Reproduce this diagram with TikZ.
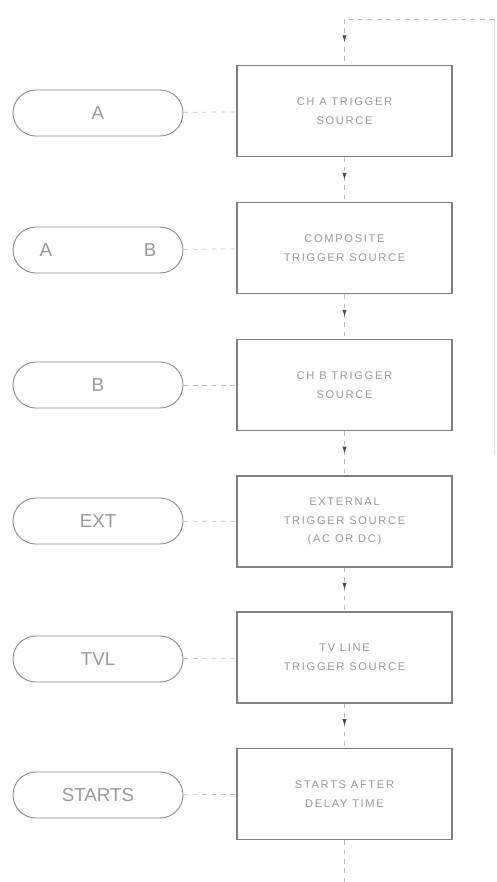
\documentclass[tikz,border=0pt]{standalone}
\usepackage{fontspec}
\usepackage{xcolor}
\usepackage{tikz}
\usetikzlibrary{arrows.meta,decorations.markings,positioning,calc}

\newfontfamily\lettering[LetterSpace=15]{Liberation Sans}
\newfontfamily\keyfont{Liberation Sans}
\definecolor{inkgray}{HTML}{808080}
\definecolor{pillgray}{HTML}{8C8C8C}
\definecolor{textgray}{HTML}{999999}
\definecolor{linkgray}{HTML}{BDBDBD}
\definecolor{edgegray}{HTML}{E2E2E2}
\definecolor{arrowgray}{HTML}{4A4A4A}

\begin{document}
\begin{tikzpicture}[x=0.03cm,y=-0.03cm,
	srcbox/.style={draw=inkgray, line width=1.1pt, minimum width=6.45cm, minimum height=2.73cm,
		align=center, inner sep=0pt, text=textgray, font=\lettering\fontsize{9.5}{16}\selectfont},
	key/.style={draw=pillgray, line width=0.8pt, rounded corners=0.69cm, minimum width=5.1cm,
		minimum height=1.38cm, inner sep=0pt, text=textgray, font=\keyfont\fontsize{16}{18}\selectfont},
	link/.style={draw=linkgray, line width=0.6pt, dash pattern=on 4pt off 4pt},
	flow/.style={link, postaction={decorate}, decoration={markings,
		mark=at position 0.5 with {\arrow[arrowgray, solid]{Latex[length=2mm,width=1.3mm]}}}}]
		\useasboundingbox (0,0) rectangle (496,882);

		% trigger source boxes
		\node[srcbox] (chA) at (344.5,111) {CH A TRIGGER\\SOURCE};
		\node[srcbox] (comp) at (344.5,248) {COMPOSITE\\TRIGGER SOURCE};
		\node[srcbox] (chB) at (344.5,385) {CH B TRIGGER\\SOURCE};
		\node[srcbox] (ext) at (344.5,521.5) {EXTERNAL\\TRIGGER SOURCE\\(AC OR DC)};
		\node[srcbox] (tvl) at (344.5,657.5) {TV LINE\\TRIGGER SOURCE};
		\node[srcbox] (delay) at (344.5,794) {STARTS AFTER\\DELAY TIME};

		% key annunciators
		\node[key] (keyA) at (98,113) {A};
		\node[key] (keyAB) at (98,250) {A\hspace{2.75cm}B};
		\node[key] (keyB) at (98,385) {B};
		\node[key] (keyExt) at (98,521) {EXT};
		\node[key] (keyTvl) at (98,659) {TVL};
		\node[key] (keyStarts) at (98,795) {STARTS};

		\draw[link] (keyA) -- (chA);
		\draw[link] (keyAB) -- (comp);
		\draw[link] (keyB) -- (chB);
		\draw[link] (keyExt) -- (ext);
		\draw[link] (keyTvl) -- (tvl);
		\draw[link] (keyStarts) -- (delay);

		% loop back in from the right
		\coordinate (loop) at (344.5,19);
		\coordinate (edge) at (494,19);
		\coordinate (edgeEnd) at (494,455);
		\coordinate (tail) at (344.5,882);
		\draw[edgegray, line width=0.6pt] (edgeEnd) -- (edge);
		\draw[link] (edge) -- (loop);
		\draw[flow] (loop) -- (chA.north);

		\draw[flow] (chA.south) -- (comp.north);
		\draw[flow] (comp.south) -- (chB.north);
		\draw[flow] (chB.south) -- (ext.north);
		\draw[flow] (ext.south) -- (tvl.north);
		\draw[flow] (tvl.south) -- (delay.north);
		\draw[link] (delay.south) -- (tail);
	\end{tikzpicture}
\end{document}
